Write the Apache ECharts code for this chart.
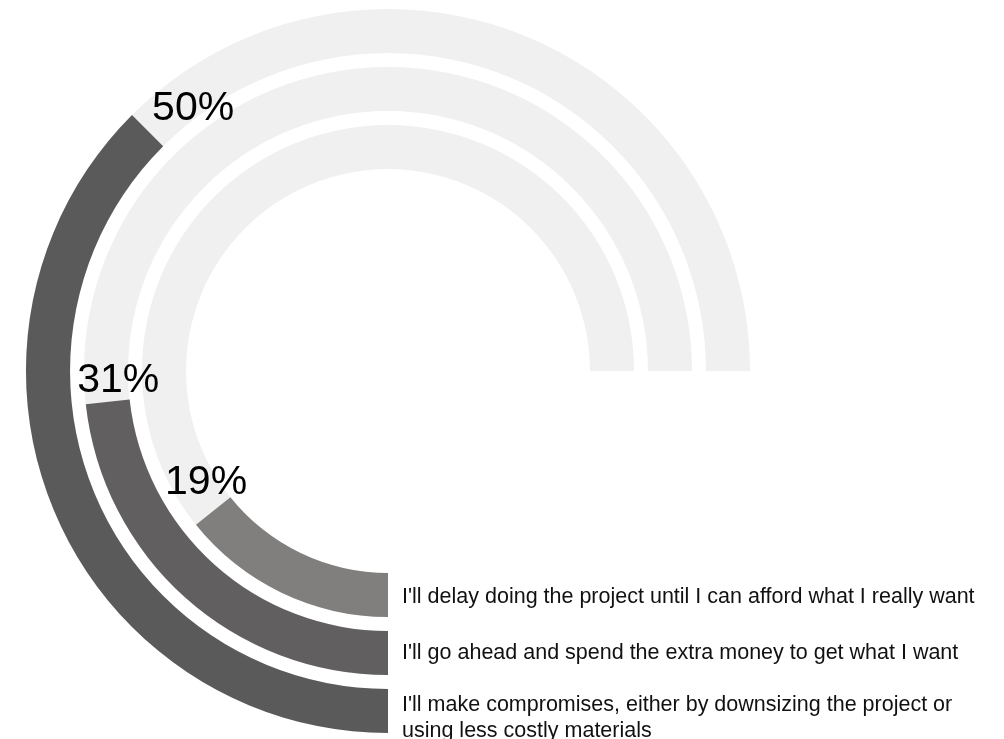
<!DOCTYPE html>
<html>
<head>
<meta charset="utf-8">
<script src="https://cdn.jsdelivr.net/npm/echarts@6/dist/echarts.min.js"></script>
<style>
  html, body { margin: 0; padding: 0; background: #ffffff; }
  #chart { width: 1004px; height: 739px; }
</style>
</head>
<body>
<div id="chart"></div>
<script>
// Answers, from the innermost ring to the outermost one
const categories = [
  "I'll delay doing the project until I can afford what I really want",
  "I'll go ahead and spend the extra money to get what I want",
  "I'll make compromises, either by downsizing the project or\nusing less costly materials"
];
// Share of respondents, in percent
const values = [19, 31, 50];
// Full scale of each ring
const trackValues = [100, 100, 100];

// Styling per ring (inner to outer)
const ringColors = ['#807f7d', '#625f60', '#5a5a5a'];
const valueLabelOffsets = [[-45, -24], [-30, -16], [1, -18]];
const answerTopPadding = [4, 0, 14];

const answerFont = {
  color: '#111111',
  fontFamily: 'Liberation Sans, Arial, sans-serif',
  fontSize: 21.5,
  lineHeight: 25.5
};

// One rich style per answer, used on each of its lines
const answerRich = {};
answerTopPadding.forEach((p, i) => {
  answerRich['a' + i] = Object.assign({}, answerFont, { padding: [p, 0, 0, 0] });
});

const chart = echarts.init(document.getElementById('chart'), null, { renderer: 'canvas' });

chart.setOption({
  animation: false,
  backgroundColor: '#ffffff',
  polar: {
    center: [388, 371],
    radius: [195, 369]
  },
  angleAxis: {
    type: 'value',
    min: 0,
    max: 100 / 0.75,          // rings sweep three quarters of a turn
    startAngle: 270,
    clockwise: true,
    show: false
  },
  radiusAxis: {
    type: 'category',
    data: categories,
    axisLine: { show: false },
    axisTick: { show: false },
    splitLine: { show: false },
    axisLabel: Object.assign({
      show: true,
      interval: 0,
      margin: 14,
      rich: answerRich,
      formatter: function (value, index) {
        return value.split('\n').map(function (line) {
          return '{a' + index + '|' + line + '}';
        }).join('\n');
      }
    }, answerFont)
  },
  series: [
    {
      type: 'bar',
      coordinateSystem: 'polar',
      data: trackValues,
      barCategoryGap: '24%',
      barGap: '-100%',
      itemStyle: { color: '#f0f0f0' },
      silent: true,
      z: 1
    },
    {
      type: 'bar',
      coordinateSystem: 'polar',
      data: values.map((v, i) => ({
        value: v,
        itemStyle: { color: ringColors[i] },
        label: { offset: valueLabelOffsets[i] }
      })),
      barCategoryGap: '24%',
      barGap: '-100%',
      z: 2,
      label: {
        show: true,
        position: 'end',
        rotate: 0,
        formatter: '{c}%',
        color: '#000000',
        fontFamily: 'Liberation Sans, Arial, sans-serif',
        fontSize: 41
      }
    }
  ]
});
</script>
</body>
</html>
